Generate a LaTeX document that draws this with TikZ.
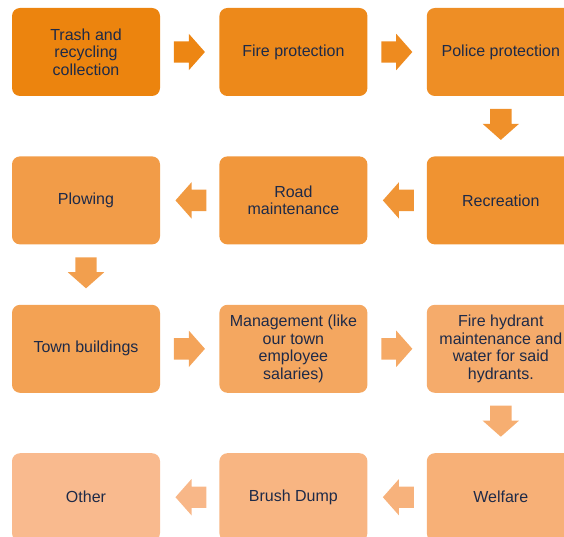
\documentclass[tikz,border=0pt]{standalone}
\usepackage{fontspec}
\setmainfont{Liberation Sans}
\usetikzlibrary{positioning,shapes.arrows,calc}
\definecolor{startor}{RGB}{236,132,14}
\definecolor{endor}{RGB}{249,186,142}
\definecolor{txtblue}{RGB}{30,42,72}

\begin{document}
\begin{tikzpicture}[x=1pt, y=1pt,
	main/.style = {draw=none, rounded corners=8pt, fill=endor!#1!startor, text=txtblue,
		minimum width=148pt, minimum height=88pt, inner sep=0pt, align=center,
		font=\fontsize{16}{17.5}\selectfont},
	arr/.style = {single arrow, draw=none, fill=endor!#1!startor, minimum height=31pt,
		minimum width=36pt, single arrow head extend=7.5pt, single arrow head indent=0pt,
		single arrow tip angle=97, inner sep=10.5pt, anchor=tip}]
		\useasboundingbox (0,0) rectangle (564,-537);
		\clip (0,0) rectangle (564,-537);
		\node[main=0] (1) at (86,-52) {Trash and\\recycling\\collection};
		\node[main=9] (2) [right=59pt of 1] {Fire protection};
		\node[main=18] (3) [right=59pt of 2] {Police protection};
		\node[main=27] (4) [below=60pt of 3] {Recreation};
		\node[main=36] (5) [left=59pt of 4] {Road\\maintenance};
		\node[main=45] (6) [left=59pt of 5] {Plowing};
		\node[main=55] (7) [below=60pt of 6] {Town buildings};
		\node[main=64] (8) [right=59pt of 7] {Management (like\\our town\\employee\\salaries)};
		\node[main=73] (9) [right=59pt of 8] {Fire hydrant\\maintenance and\\water for said\\hydrants.};
		\node[main=82] (10) [below=60pt of 9] {Welfare};
		\node[main=91] (11) [left=59pt of 10] {Brush Dump};
		\node[main=100] (12) [left=59pt of 11] {Other};
		% block arrows, tip just short of the next box
		\node[arr=4] (a1) at ($(2.west)+(-14,0)$) {};
		\node[arr=13] (a2) at ($(3.west)+(-14,0)$) {};
		\node[arr=22, shape border rotate=270] (a3) at ($(4.north)+(0,16)$) {};
		\node[arr=31, shape border rotate=180] (a4) at ($(5.east)+(15,0)$) {};
		\node[arr=40, shape border rotate=180] (a5) at ($(6.east)+(15,0)$) {};
		\node[arr=50, shape border rotate=270] (a6) at ($(7.north)+(0,16)$) {};
		\node[arr=59] (a7) at ($(8.west)+(-14,0)$) {};
		\node[arr=68] (a8) at ($(9.west)+(-14,0)$) {};
		\node[arr=77, shape border rotate=270] (a9) at ($(10.north)+(0,16)$) {};
		\node[arr=86, shape border rotate=180] (a10) at ($(11.east)+(15,0)$) {};
		\node[arr=95, shape border rotate=180] (a11) at ($(12.east)+(15,0)$) {};
\end{tikzpicture}
\end{document}
